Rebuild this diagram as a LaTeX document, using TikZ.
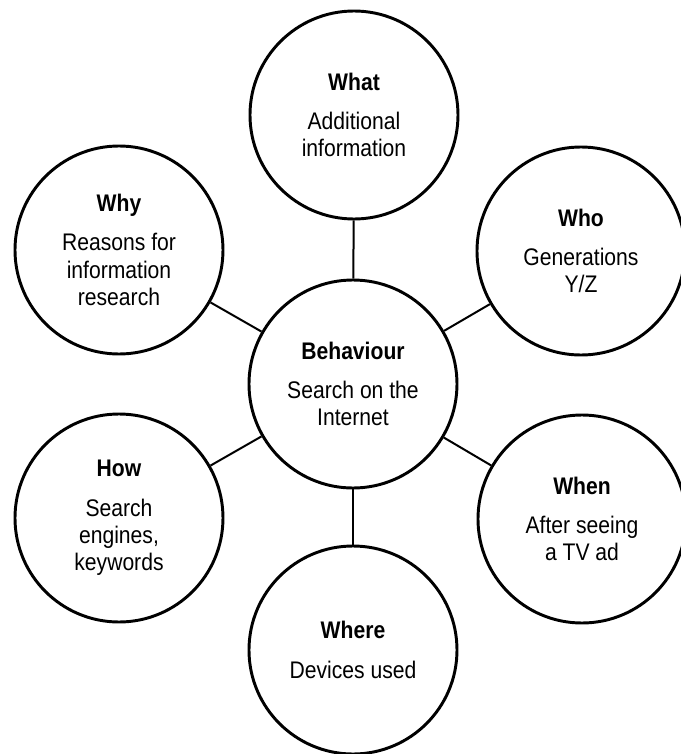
\documentclass[tikz,border=0pt]{standalone}
\usepackage{fontspec}
\setmainfont{Liberation Sans}[FakeStretch=0.88]
\tikzset{
  % A circle holding one question and its answer
  topic/.style={
    draw=black, line width=2.2pt, circle, fill=white, align=center,
    font=\fontsize{18}{20.5}\selectfont, inner sep=0pt, minimum size=156pt},
  % A spoke from the centre to a question
  spoke/.style={draw=black, line width=1.5pt},
}
% Bold heading, then the answer below it
\newcommand{\topictext}[2]{\textbf{#1}\\[9pt]#2}

\begin{document}
\begin{tikzpicture}

  \useasboundingbox (-264.75pt,-277.5pt) rectangle (246pt,288pt);

  % --- Centre ----------------------------------------------------------
  \node[topic] (behaviour) at (0,0)
       {\topictext{Behaviour}{Search on the\\Internet}};

  % --- Questions around it ---------------------------------------------
  \node[topic] (what)  at (0.75pt,201.75pt)   {\topictext{What}{Additional\\information}};
  \node[topic] (why)   at (-175.5pt,100.5pt)  {\topictext{Why}{Reasons for\\information\\research}};
  \node[topic] (who)   at (171pt,99.75pt)     {\topictext{Who}{Generations\\Y/Z}};
  \node[topic] (how)   at (-175.5pt,-100.5pt) {\topictext{How}{Search\\engines,\\keywords}};
  \node[topic] (when)  at (171.75pt,-101.25pt){\topictext{When}{After seeing\\a TV ad}};
  \node[topic] (where) at (0,-199.5pt)        {\topictext{Where}{Devices used}};

  % --- Spokes ----------------------------------------------------------
  \foreach \q in {what, why, who, how, when, where}
    \draw[spoke] (behaviour) -- (\q);

\end{tikzpicture}
\end{document}
